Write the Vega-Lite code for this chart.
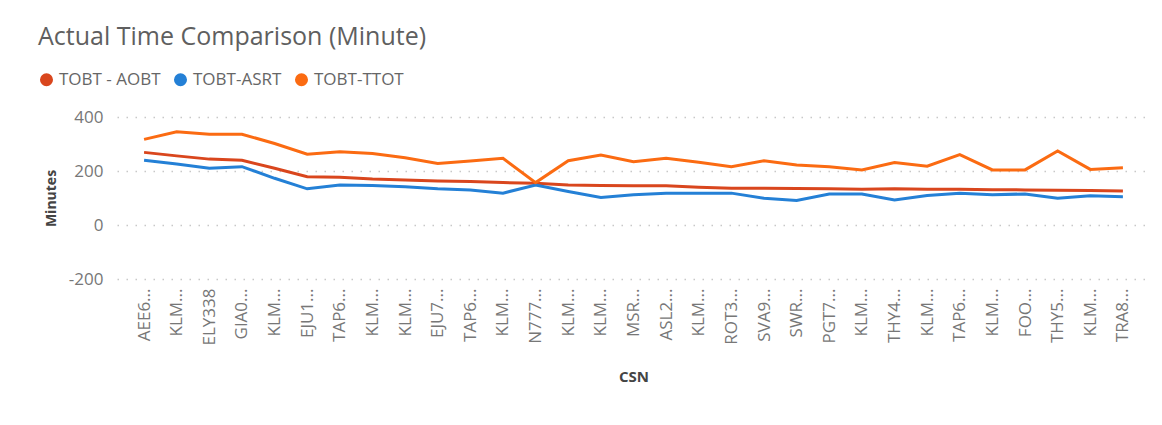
{
  "$schema": "https://vega.github.io/schema/vega-lite/v6.json",
  "autosize": "none",
  "width": 1033,
  "height": 162,
  "padding": {"left": 117, "top": 117, "right": 12, "bottom": 146},
  "background": "white",
  "title": {
    "text": "Actual Time Comparison (Minute)",
    "anchor": "start",
    "frame": "group",
    "dx": -79,
    "dy": -17,
    "fontSize": 25,
    "fontWeight": "normal",
    "font": "Open Sans",
    "color": "#5f5f5f",
    "orient": "top"
  },
  "data": {
    "values": [
      {"csn": "00|AEE6...", "TOBT - AOBT": 269, "TOBT-ASRT": 240, "TOBT-TTOT": 317},
      {"csn": "01|KLM...", "TOBT - AOBT": 256, "TOBT-ASRT": 226, "TOBT-TTOT": 345},
      {"csn": "02|ELY338", "TOBT - AOBT": 244, "TOBT-ASRT": 210, "TOBT-TTOT": 336},
      {"csn": "03|GIA0...", "TOBT - AOBT": 240, "TOBT-ASRT": 216, "TOBT-TTOT": 336},
      {"csn": "04|KLM...", "TOBT - AOBT": 210, "TOBT-ASRT": 173, "TOBT-TTOT": 302},
      {"csn": "05|EJU1...", "TOBT - AOBT": 179, "TOBT-ASRT": 134, "TOBT-TTOT": 262},
      {"csn": "06|TAP6...", "TOBT - AOBT": 177, "TOBT-ASRT": 148, "TOBT-TTOT": 271},
      {"csn": "07|KLM...", "TOBT - AOBT": 170, "TOBT-ASRT": 146, "TOBT-TTOT": 265},
      {"csn": "08|KLM...", "TOBT - AOBT": 167, "TOBT-ASRT": 142, "TOBT-TTOT": 249},
      {"csn": "09|EJU7...", "TOBT - AOBT": 163, "TOBT-ASRT": 134, "TOBT-TTOT": 228},
      {"csn": "10|TAP6...", "TOBT - AOBT": 161, "TOBT-ASRT": 130, "TOBT-TTOT": 237},
      {"csn": "11|KLM...", "TOBT - AOBT": 157, "TOBT-ASRT": 118, "TOBT-TTOT": 247},
      {"csn": "12|N777...", "TOBT - AOBT": 155, "TOBT-ASRT": 148, "TOBT-TTOT": 157},
      {"csn": "13|KLM...", "TOBT - AOBT": 148, "TOBT-ASRT": 124, "TOBT-TTOT": 238},
      {"csn": "14|KLM...", "TOBT - AOBT": 146, "TOBT-ASRT": 102, "TOBT-TTOT": 259},
      {"csn": "15|MSR...", "TOBT - AOBT": 145, "TOBT-ASRT": 112, "TOBT-TTOT": 234},
      {"csn": "16|ASL2...", "TOBT - AOBT": 145, "TOBT-ASRT": 118, "TOBT-TTOT": 247},
      {"csn": "17|KLM...", "TOBT - AOBT": 140, "TOBT-ASRT": 118, "TOBT-TTOT": 232},
      {"csn": "18|ROT3...", "TOBT - AOBT": 136, "TOBT-ASRT": 118, "TOBT-TTOT": 216},
      {"csn": "19|SVA9...", "TOBT - AOBT": 136, "TOBT-ASRT": 99, "TOBT-TTOT": 238},
      {"csn": "20|SWR...", "TOBT - AOBT": 135, "TOBT-ASRT": 91, "TOBT-TTOT": 222},
      {"csn": "21|PGT7...", "TOBT - AOBT": 134, "TOBT-ASRT": 115, "TOBT-TTOT": 216},
      {"csn": "22|KLM...", "TOBT - AOBT": 132, "TOBT-ASRT": 115, "TOBT-TTOT": 204},
      {"csn": "23|THY4...", "TOBT - AOBT": 134, "TOBT-ASRT": 93, "TOBT-TTOT": 231},
      {"csn": "24|KLM...", "TOBT - AOBT": 132, "TOBT-ASRT": 109, "TOBT-TTOT": 218},
      {"csn": "25|TAP6...", "TOBT - AOBT": 132, "TOBT-ASRT": 118, "TOBT-TTOT": 261},
      {"csn": "26|KLM...", "TOBT - AOBT": 131, "TOBT-ASRT": 112, "TOBT-TTOT": 204},
      {"csn": "27|FOO...", "TOBT - AOBT": 130, "TOBT-ASRT": 115, "TOBT-TTOT": 204},
      {"csn": "28|THY5...", "TOBT - AOBT": 129, "TOBT-ASRT": 99, "TOBT-TTOT": 274},
      {"csn": "29|KLM...", "TOBT - AOBT": 128, "TOBT-ASRT": 108, "TOBT-TTOT": 206},
      {"csn": "30|TRA8...", "TOBT - AOBT": 126, "TOBT-ASRT": 105, "TOBT-TTOT": 212}
    ]
  },
  "transform": [
    {"fold": ["TOBT - AOBT", "TOBT-ASRT", "TOBT-TTOT"], "as": ["series", "minutes"]}
  ],
  "mark": {"type": "line", "strokeWidth": 3, "interpolate": "linear"},
  "encoding": {
    "x": {
      "field": "csn",
      "type": "ordinal",
      "sort": null,
      "scale": {"type": "point", "padding": 0.83},
      "axis": {
        "title": "CSN",
        "labelExpr": "split(datum.value, '|')[1]",
        "labelAngle": -90,
        "labelAlign": "right",
        "labelBaseline": "middle",
        "labelFontSize": 17,
        "labelColor": "#777777",
        "labelFont": "Open Sans",
        "labelPadding": 9,
        "ticks": false,
        "domain": false,
        "grid": false,
        "titleFont": "Open Sans",
        "titleFontSize": 15,
        "titleFontWeight": "bold",
        "titleColor": "#444444",
        "titlePadding": 25
      }
    },
    "y": {
      "field": "minutes",
      "type": "quantitative",
      "scale": {"domain": [-200, 400], "nice": false, "zero": false},
      "axis": {
        "title": "Minutes",
        "values": [-200, 0, 200, 400],
        "labelExpr": "'' + datum.value",
        "labelFontSize": 17,
        "labelColor": "#777777",
        "labelFont": "Open Sans",
        "labelPadding": 14,
        "ticks": false,
        "domain": false,
        "grid": true,
        "gridColor": "#c8c8c8",
        "gridDash": [1.5, 7.5],
        "gridWidth": 1.5,
        "titleFont": "Open Sans",
        "titleFontSize": 14,
        "titleFontWeight": "bold",
        "titleColor": "#444444",
        "titlePadding": 10
      }
    },
    "color": {
      "field": "series",
      "type": "nominal",
      "scale": {
        "domain": ["TOBT - AOBT", "TOBT-ASRT", "TOBT-TTOT"],
        "range": ["#D9461D", "#2480D6", "#FB6B12"]
      },
      "legend": {
        "title": null,
        "orient": "none",
        "legendX": -79,
        "legendY": -46,
        "direction": "horizontal",
        "symbolType": "circle",
        "symbolSize": 170,
        "labelFontSize": 17,
        "labelFont": "Open Sans",
        "labelColor": "#666666",
        "labelOffset": 4,
        "columnPadding": 11,
        "encode": {
          "symbols": {
            "update": {
              "fill": {"scale": "color", "field": "value"},
              "fillOpacity": {"value": 1},
              "strokeWidth": {"value": 0}
            }
          }
        }
      }
    }
  },
  "config": {"view": {"stroke": null}}
}
